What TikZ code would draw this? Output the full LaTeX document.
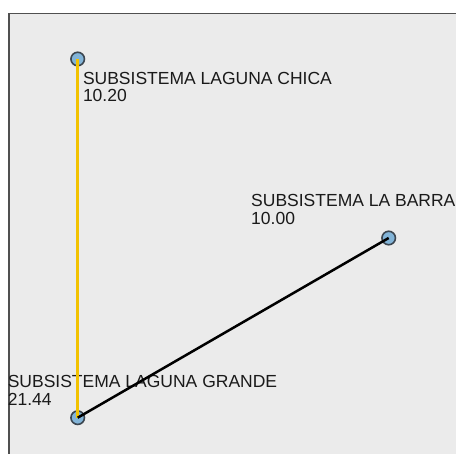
\documentclass[tikz,border=0pt]{standalone}
\usepackage{fontspec}
\setmainfont{Liberation Sans}
\definecolor{panel}{HTML}{EBEBEB}
\definecolor{frameline}{HTML}{505050}
\definecolor{nodefill}{HTML}{82B4D8}
\definecolor{nodeline}{HTML}{3C4650}
\definecolor{yellowedge}{HTML}{F2C200}
\definecolor{txt}{HTML}{1A1A1A}
\tikzset{
  station/.style={circle, fill=nodefill, draw=nodeline, line width=1.6pt, minimum size=13.5pt, inner sep=0pt},
  lbl/.style={anchor=north west, inner sep=0pt, align=left, text=txt,
    font=\fontsize{17.5}{17.7}\selectfont},
  yedge/.style={draw=yellowedge, line width=3pt},
  kedge/.style={draw=black, line width=2.5pt}
}
\begin{document}
\begin{tikzpicture}[x=1pt,y=-1pt]
\useasboundingbox (0,0) rectangle (456,454);
\clip (0,0) rectangle (456,454);
\fill[white] (0,0) rectangle (456,454);
\draw[fill=panel, draw=frameline, line width=1.3pt] (9,13.3) rectangle (480,480);
\node[station] (chica) at (77.7,59) {};
\node[station] (barra) at (388.7,238) {};
\node[station] (grande) at (77.7,417.7) {};
\node[lbl] (lchica) at (82.8,71.7) {SUBSISTEMA LAGUNA CHICA\\10.20};
\node[lbl] (lbarra) at (251,194) {SUBSISTEMA LA BARRA\\10.00};
\node[lbl] (lgrande) at (7.6,375) {SUBSISTEMA LAGUNA GRANDE\\21.44};
\draw[yedge] (chica.center) -- (grande.center);
\draw[kedge] (grande.center) -- (barra.center);
\end{tikzpicture}
\end{document}
